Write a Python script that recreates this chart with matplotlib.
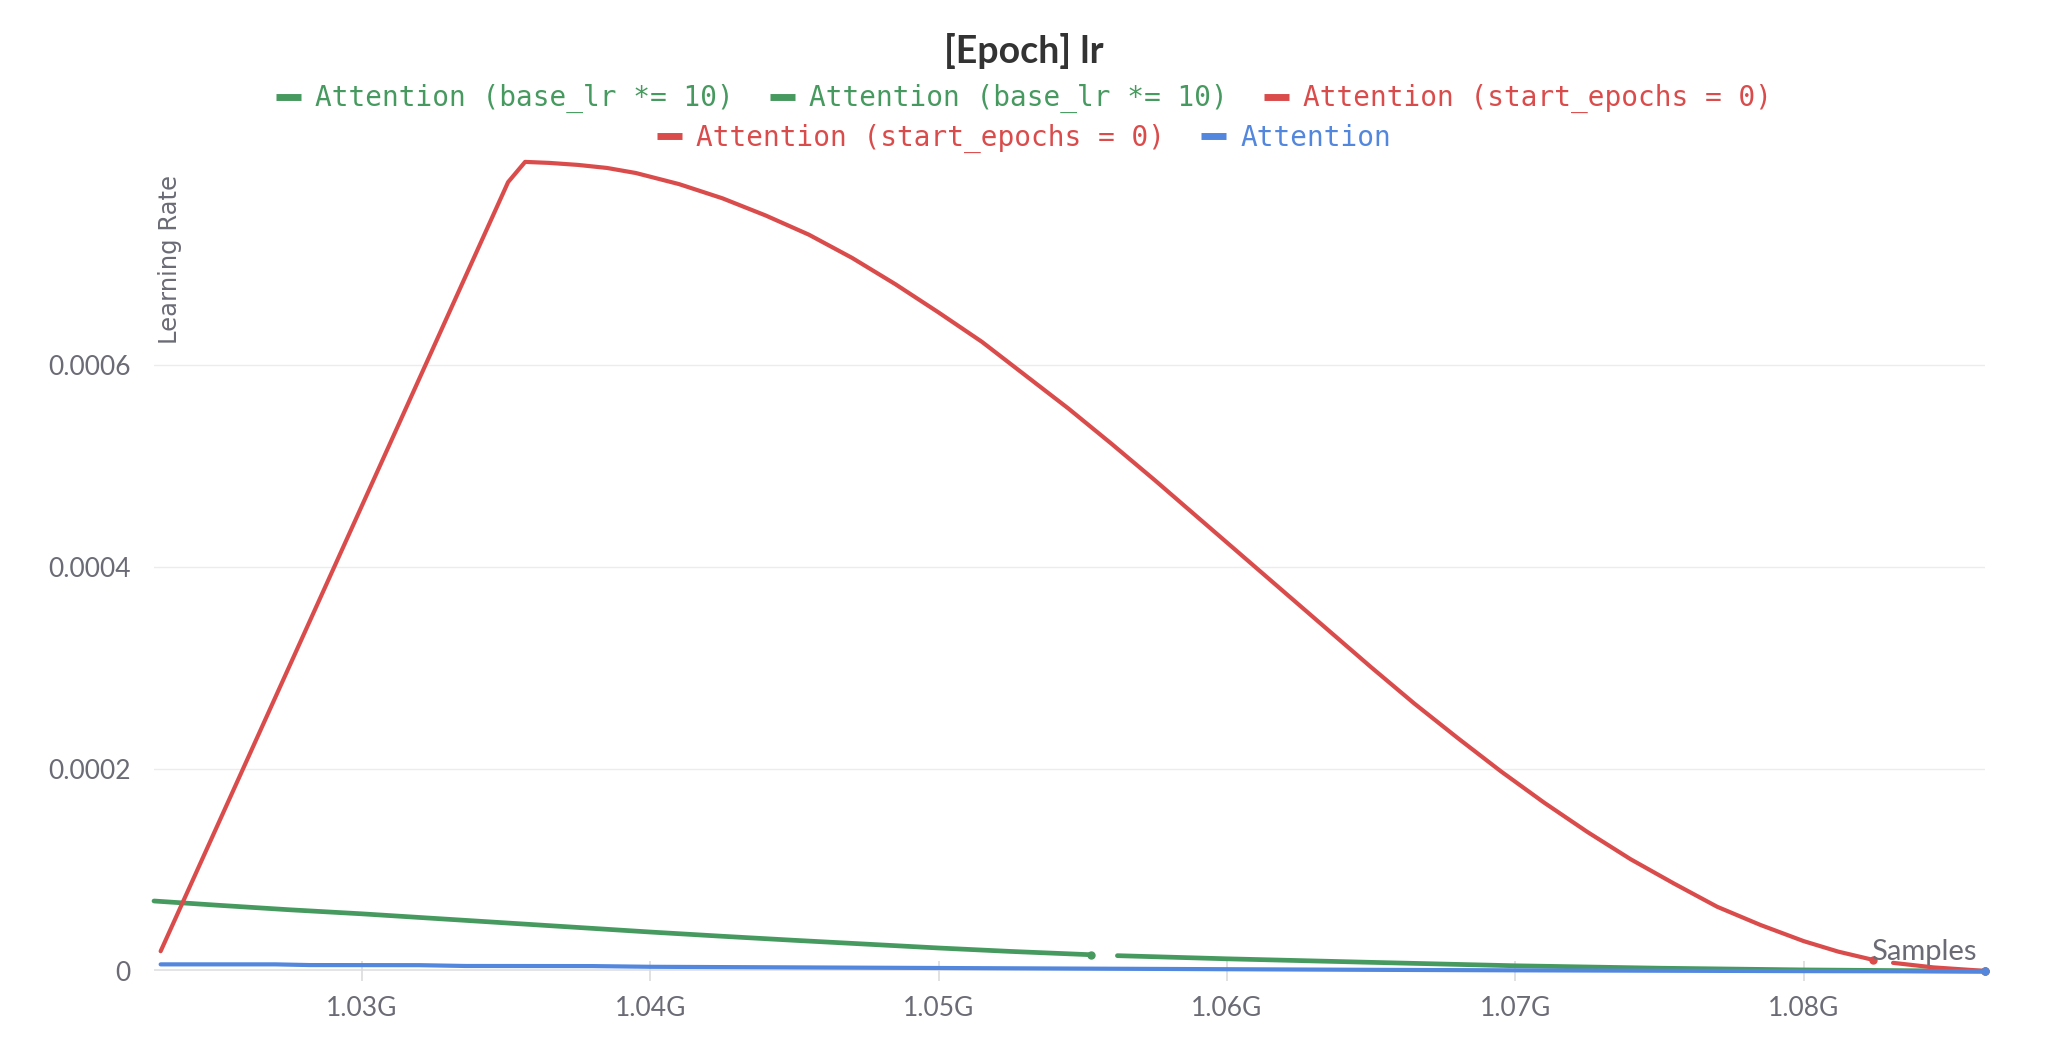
import matplotlib
matplotlib.use("Agg")
import matplotlib.pyplot as plt
from matplotlib.ticker import FuncFormatter, FixedLocator

# samples (in G) / learning rate
green1_x = [1.02279, 1.0250, 1.0275, 1.0300, 1.0325, 1.0350, 1.0375, 1.0400,
            1.0425, 1.0450, 1.0475, 1.0500, 1.0525, 1.0553]
green1_y = [6.97e-5, 6.55e-5, 6.10e-5, 5.70e-5, 5.25e-5, 4.80e-5, 4.35e-5, 3.90e-5,
            3.48e-5, 3.08e-5, 2.70e-5, 2.32e-5, 1.98e-5, 1.65e-5]

green2_x = [1.0562, 1.0600, 1.0650, 1.0700, 1.0750, 1.0800, 1.0863]
green2_y = [1.56e-5, 1.25e-5, 9.0e-6, 5.6e-6, 3.2e-6, 1.5e-6, 2e-7]

red1_x = [1.02302, 1.03507, 1.03566, 1.0365, 1.0375, 1.0385, 1.0395, 1.0410,
          1.0425, 1.0440, 1.0455, 1.0470, 1.0485, 1.0500, 1.0515, 1.0530,
          1.0545, 1.0560, 1.0575, 1.0590, 1.0605, 1.0620, 1.0635, 1.0650,
          1.0665, 1.0680, 1.0695, 1.0710, 1.0725, 1.0740, 1.0755, 1.0770,
          1.0785, 1.0800, 1.0812, 1.0824]
red1_y = [2.0e-5, 7.81e-4, 8.01e-4, 8.00e-4, 7.98e-4, 7.95e-4, 7.90e-4, 7.79e-4,
          7.65e-4, 7.48e-4, 7.29e-4, 7.06e-4, 6.80e-4, 6.52e-4, 6.23e-4, 5.90e-4,
          5.57e-4, 5.22e-4, 4.86e-4, 4.49e-4, 4.12e-4, 3.75e-4, 3.38e-4, 3.01e-4,
          2.65e-4, 2.31e-4, 1.98e-4, 1.67e-4, 1.38e-4, 1.11e-4, 8.7e-5, 6.4e-5,
          4.6e-5, 3.0e-5, 1.96e-5, 1.15e-5]

red2_x = [1.0831, 1.0845, 1.0863]
red2_y = [8.5e-6, 4.0e-6, 5e-7]

blue_x = [1.02302, 1.0270, 1.0282, 1.0320, 1.0336, 1.0380, 1.0400, 1.0450,
          1.0500, 1.0550, 1.0600, 1.0650, 1.0700, 1.0750, 1.0800, 1.0863]
blue_y = [7.0e-6, 7.0e-6, 6.3e-6, 6.2e-6, 5.4e-6, 5.3e-6, 4.6e-6, 4.0e-6,
          3.4e-6, 2.8e-6, 2.2e-6, 1.6e-6, 1.1e-6, 7e-7, 3e-7, 0.0]

x_ticks = [1.03, 1.04, 1.05, 1.06, 1.07, 1.08]
y_ticks = [0, 0.0002, 0.0004, 0.0006]

GREEN = "#479a5f"
RED = "#da4c4c"
BLUE = "#5387dd"
GREY = "#6b6b76"

G = 1e9
fig = plt.figure(figsize=(20.48, 10.51), dpi=100)
ax = fig.add_axes([0.0752, 0.0757, 0.8942, 0.7693])

runs = [
    (green1_x, green1_y, GREEN, "Attention (base_lr *= 10)", 3.4),
    (green2_x, green2_y, GREEN, "Attention (base_lr *= 10)", 3.4),
    (red1_x, red1_y, RED, "Attention (start_epochs = 0)", 3.0),
    (red2_x, red2_y, RED, "Attention (start_epochs = 0)", 3.0),
    (blue_x, blue_y, BLUE, "Attention", 3.0),
]
handles = []
for xs, ys, c, name, lw in runs:
    ln, = ax.plot([v * G for v in xs], ys, color=c, lw=lw, label=name,
                  solid_capstyle="round", solid_joinstyle="round", clip_on=False,
                  zorder=3, marker="o", markevery=[len(xs) - 1], markersize=5)
    handles.append(ln)

ax.set_xlim(1.02279 * G, 1.0863 * G)
ax.set_ylim(0, 0.0008)

for s in ax.spines.values():
    s.set_visible(False)
ax.axhline(0, color="#e4e4e6", lw=3.5, zorder=1)
for yv in y_ticks[1:]:
    ax.axhline(yv, color="#ececee", lw=1, zorder=0)

ax.xaxis.set_major_locator(FixedLocator([v * G for v in x_ticks]))
ax.yaxis.set_major_locator(FixedLocator(y_ticks))
ax.xaxis.set_major_formatter(FuncFormatter(lambda v, p: f"{v / G:.2f}G"))
ax.yaxis.set_major_formatter(FuncFormatter(lambda v, p: "0" if v == 0 else f"{v:.4f}"))
ax.tick_params(axis="x", direction="inout", length=14, width=1.2, color="#dcdcdf",
               pad=11, labelsize=19, labelcolor=GREY)
ax.tick_params(axis="y", length=0, pad=17, labelsize=19, labelcolor=GREY)
for lab in ax.get_xticklabels() + ax.get_yticklabels():
    lab.set_fontfamily("Lato")

ax.text(0.009, 0.985, "Learning Rate", transform=ax.transAxes, rotation=90,
        ha="center", va="top", fontsize=17.5, color=GREY, family="DejaVu Sans")
ax.text(0.995, 0.024, "Samples", transform=ax.transAxes, ha="right", va="center",
        fontsize=21, color=GREY, family="Lato")

fig.text(0.5, 0.951, "[Epoch] lr", ha="center", va="center", fontsize=27,
         fontweight="bold", color="#333333", family="Lato")

leg_kw = dict(frameon=False, handlelength=0.9, handletextpad=0.5, columnspacing=1.3,
              prop={"family": "DejaVu Sans Mono", "size": 20}, loc="center",
              bbox_transform=fig.transFigure, borderpad=0, borderaxespad=0)
leg1 = ax.legend(handles=handles[:3], ncol=3, bbox_to_anchor=(0.5, 0.906), **leg_kw)
for t, h in zip(leg1.get_texts(), handles[:3]):
    t.set_color(h.get_color())
ax.add_artist(leg1)
leg2 = ax.legend(handles=handles[3:], ncol=2, bbox_to_anchor=(0.5, 0.868), **leg_kw)
for t, h in zip(leg2.get_texts(), handles[3:]):
    t.set_color(h.get_color())
for lg in (leg1, leg2):
    for lh in lg.legend_handles:
        lh.set_marker("")
        lh.set_linewidth(5)
        lh.set_solid_capstyle("butt")

fig.savefig("out.png", dpi=100, facecolor="white")
